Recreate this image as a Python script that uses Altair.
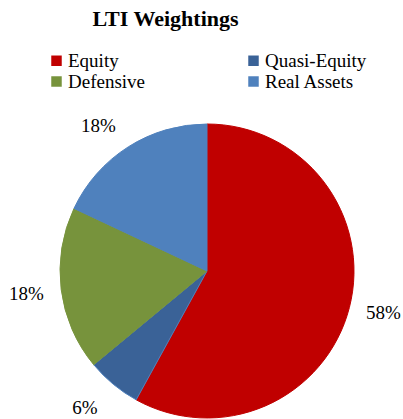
import altair as alt
import pandas as pd

categories = ["Equity", "Quasi-Equity", "Defensive", "Real Assets"]
values = [58, 6, 18, 18]
labels = ["58%", "6%", "18%", "18%"]
colors = ["#C00000", "#3A6297", "#77933C", "#4F81BD"]
strokes = ["#C00000", "#4F81BD", "#77933C", "#4F81BD"]
legend_order = ["Equity", "Defensive", "Quasi-Equity", "Real Assets"]

df = pd.DataFrame({"cat": categories, "val": values, "lab": labels, "ord": list(range(len(categories)))})

FONT = "Liberation Serif"
TOP = 45
CX, CY = 207, 271 - TOP

base = alt.Chart(df).encode(
    theta=alt.Theta("val:Q", stack=True),
    order=alt.Order("ord:Q"),
    x=alt.value(CX),
    y=alt.value(CY),
)

pie = base.mark_arc(radius=147, strokeWidth=1).encode(
    color=alt.Color(
        "cat:N",
        scale=alt.Scale(domain=categories, range=colors),
        sort=categories,
        legend=alt.Legend(
            title=None,
            orient="none",
            legendX=47,
            legendY=6,
            columns=2,
            columnPadding=98,
            rowPadding=1,
            values=legend_order,
            symbolType="square",
            symbolSize=110,
            symbolStrokeWidth=0,
            labelFont=FONT,
            labelFontSize=19,
            labelColor="black",
            labelOffset=2,
        ),
    ),
    stroke=alt.Stroke("cat:N", scale=alt.Scale(domain=categories, range=strokes), legend=None),
)

# label offsets (style only) to mimic the outside-end placement of the original
label_layers = []
for cat, (ddx, ddy) in zip(categories, [(0, -3), (-6, -3), (0, 0), (-11, 9)]):
    label_layers.append(
        base.mark_text(radius=182, font=FONT, fontSize=19, color="black", dx=ddx, dy=ddy)
        .encode(text="lab:N", opacity=alt.condition(alt.datum.cat == cat, alt.value(1), alt.value(0)))
    )

chart = alt.layer(pie, *label_layers).properties(
    width=403,
    height=419 - TOP,
    padding={"left": 0, "right": 0, "top": TOP, "bottom": 0},
    autosize=alt.AutoSizeParams(type="none"),
    title=alt.TitleParams(
        "LTI Weightings",
        font=FONT,
        fontSize=22,
        fontWeight="bold",
        color="black",
        anchor="middle",
        dx=-36,
        offset=14,
    ),
).configure_view(stroke=None)

chart.save("out.html", embed_options={"renderer": "svg", "actions": False})
